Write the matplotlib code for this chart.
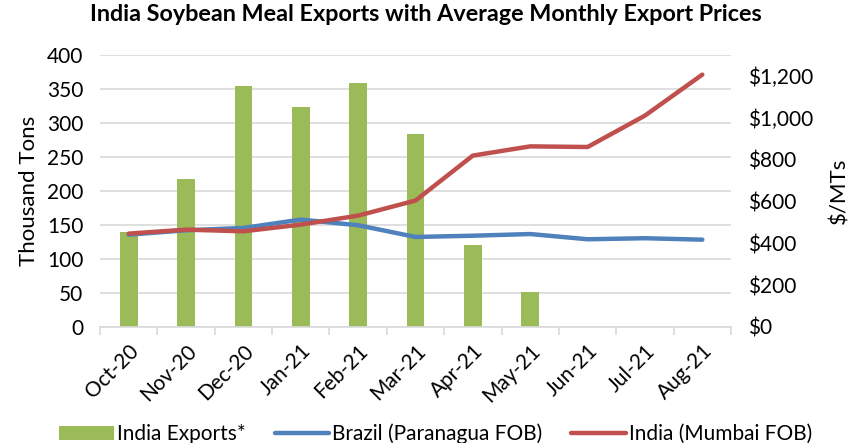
import matplotlib.pyplot as plt
import numpy as np

plt.rcParams['font.family'] = ['Lato', 'DejaVu Sans']

# Données
months = ['Oct-20', 'Nov-20', 'Dec-20', 'Jan-21', 'Feb-21', 'Mar-21',
          'Apr-21', 'May-21', 'Jun-21', 'Jul-21', 'Aug-21']
india_exports = [140, 217, 354, 323, 358, 284, 121, 51, 0, 0, 0]
brazil_price = [441, 462, 473, 513, 486, 430, 436, 444, 419, 424, 417]
india_price = [446, 465, 457, 489, 532, 604, 819, 863, 860, 1010, 1206]

fig = plt.figure(figsize=(8.51, 4.43), dpi=100)
ax = fig.add_axes([0.1175, 0.262, 0.7415, 0.614])
ax2 = ax.twinx()

x = np.arange(len(months))
bars = ax.bar(x, india_exports, width=0.31, color='#9BBB59', zorder=2,
              label='India Exports*')

l1, = ax2.plot(x, brazil_price, color='#4F81BD', lw=3.2, solid_capstyle='round',
               label='Brazil (Paranagua FOB)')
l2, = ax2.plot(x, india_price, color='#C0504D', lw=3.2, solid_capstyle='round',
               label='India (Mumbai FOB)')

ax.set_xlim(-0.5, len(months) - 0.5)
ax.set_ylim(0, 400)
ax.set_yticks(range(0, 401, 50))
ax2.set_ylim(0, 1300)
ax2.set_yticks(range(0, 1201, 200))
ax2.set_yticklabels(['$0', '$200', '$400', '$600', '$800', '$1,000', '$1,200'])

ax.yaxis.grid(True, color='#d9d9d9', lw=1.2, zorder=0)
ax.set_axisbelow(True)

for a in (ax, ax2):
    for s in ['top', 'left', 'right']:
        a.spines[s].set_visible(False)
    a.tick_params(axis='y', length=0, labelsize=15, pad=12)
ax2.spines['bottom'].set_visible(False)
ax.spines['bottom'].set_color('#d9d9d9')
ax.spines['bottom'].set_linewidth(1.2)

# Graduations entre les catégories (style Excel)
ax.set_xticks(x)
ax.set_xticklabels(months, rotation=45, ha='right', rotation_mode='anchor', fontsize=15)
ax.tick_params(axis='x', length=0, pad=10)
ax.set_xticks(np.arange(-0.5, len(months)), minor=True)
ax.tick_params(axis='x', which='minor', length=6, color='#d9d9d9', width=1.2)

ax.set_ylabel('Thousand Tons', fontsize=16, labelpad=6)
ax2.set_ylabel('$/MTs', fontsize=16, labelpad=12)

fig.suptitle('India Soybean Meal Exports with Average Monthly Export Prices',
             fontsize=16.8, fontweight='bold', y=0.99)

fig.legend(handles=[bars, l1, l2], loc='lower center', ncol=3, frameon=False,
           fontsize=15, bbox_to_anchor=(0.512, -0.045), handlelength=2.6,
           columnspacing=1.4, handletextpad=0.15)

fig.savefig('out.png', dpi=100)
